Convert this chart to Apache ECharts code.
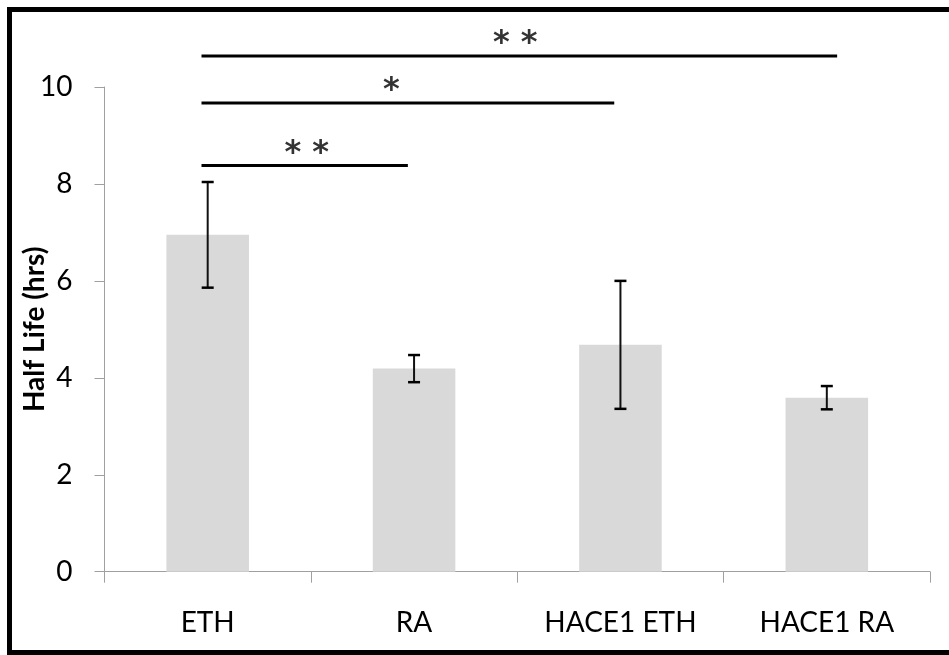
<!DOCTYPE html>
<html>
<head>
<meta charset="utf-8">
<script src="https://cdn.jsdelivr.net/npm/echarts@6/dist/echarts.min.js"></script>
<style>
  html, body { margin: 0; padding: 0; background: #fff; }
  #chart { width: 949px; height: 655px; }
</style>
</head>
<body>
<div id="chart"></div>
<script>
// Mean half life per condition and its error (hrs)
const categories = ['ETH', 'RA', 'HACE1 ETH', 'HACE1 RA'];
const halfLife = [6.95, 4.19, 4.68, 3.59];
const halfLifeErr = [1.09, 0.28, 1.32, 0.24];
const yTickValues = [0, 2, 4, 6, 8, 10];

// Significance brackets, x in category-index units, y in hrs
const bracketFrom = [-0.03, -0.03, -0.03];
const bracketTo = [0.97, 1.97, 3.05];
const bracketLevel = [8.38, 9.67, 10.64];
const bracketMark = ['* *', '*', '* *'];
const bracketMarkX = [0.48, 0.89, 1.49];

const FONT = "Lato, 'Open Sans', sans-serif";
const AXIS_GREY = '#a0a0a0';

const chart = echarts.init(document.getElementById('chart'), null, { renderer: 'canvas' });

const bracketSeries = bracketFrom.map((from, i) => ({
  type: 'line',
  xAxisIndex: 1,
  data: [[from, bracketLevel[i]], [bracketTo[i], bracketLevel[i]]],
  showSymbol: false,
  symbol: 'none',
  clip: false,
  silent: true,
  lineStyle: { color: '#000', width: 3 },
  z: 5
}));

chart.setOption({
  animation: false,
  backgroundColor: '#fff',
  grid: { left: 104.5, right: 19, top: 87, bottom: 83.3, containLabel: false, outerBoundsMode: 'none' },
  xAxis: [
    {
      type: 'category',
      data: categories,
      axisLine: { show: true, onZero: false, lineStyle: { color: AXIS_GREY, width: 1 } },
      axisTick: { show: true, length: 11, alignWithLabel: false, lineStyle: { color: AXIS_GREY } },
      axisLabel: { color: '#000', fontSize: 28, fontFamily: FONT, margin: 37 },
      splitLine: { show: false }
    },
    { type: 'value', min: -0.5, max: 3.5, show: false }
  ],
  yAxis: {
    type: 'value',
    min: yTickValues[0],
    max: yTickValues[yTickValues.length - 1],
    interval: yTickValues[1] - yTickValues[0],
    axisLine: { show: true, onZero: false, lineStyle: { color: AXIS_GREY, width: 1 } },
    axisTick: { show: true, length: 10, lineStyle: { color: AXIS_GREY } },
    axisLabel: { color: '#000', fontSize: 28, fontFamily: FONT, margin: 32 },
    splitLine: { show: false },
    name: 'Half Life (hrs)',
    nameLocation: 'middle',
    nameMoveOverlap: false,
    nameGap: 56,
    nameTextStyle: { color: '#000', fontSize: 28, fontWeight: 'bold', fontFamily: FONT }
  },
  graphic: [{
    type: 'rect',
    shape: { x: 9.5, y: 9.5, width: 945, height: 643 },
    style: { fill: 'none', stroke: '#000', lineWidth: 5 },
    silent: true,
    z: 100
  }],
  series: [
    {
      type: 'bar',
      data: halfLife,
      barWidth: '40%',
      itemStyle: { color: '#d9d9d9' },
      silent: true
    },
    {
      type: 'custom',
      data: halfLife.map((v, i) => [i, v - halfLifeErr[i], v + halfLifeErr[i]]),
      encode: { x: 0, y: [1, 2] },
      z: 4,
      renderItem: function (params, api) {
        const lo = api.coord([api.value(0), api.value(1)]);
        const hi = api.coord([api.value(0), api.value(2)]);
        const cap = 6;
        return {
          type: 'group',
          children: [
            { type: 'line', shape: { x1: hi[0], y1: hi[1], x2: lo[0], y2: lo[1] }, style: { stroke: '#111', lineWidth: 2 } },
            { type: 'line', shape: { x1: hi[0] - cap, y1: hi[1], x2: hi[0] + cap, y2: hi[1] }, style: { stroke: '#000', lineWidth: 2.5 } },
            { type: 'line', shape: { x1: lo[0] - cap, y1: lo[1], x2: lo[0] + cap, y2: lo[1] }, style: { stroke: '#000', lineWidth: 2.5 } }
          ]
        };
      }
    },
    ...bracketSeries,
    {
      type: 'scatter',
      xAxisIndex: 1,
      data: bracketMarkX.map((x, i) => [x, bracketLevel[i], bracketMark[i]]),
      symbolSize: 0,
      clip: false,
      silent: true,
      itemStyle: { color: 'transparent' },
      label: {
        show: true,
        position: 'top',
        distance: -4,
        formatter: p => p.value[2],
        color: '#000',
        fontSize: 32,
        fontWeight: 'bold',
        fontFamily: "'DejaVu Sans', sans-serif"
      },
      z: 6
    }
  ]
});
</script>
</body>
</html>
